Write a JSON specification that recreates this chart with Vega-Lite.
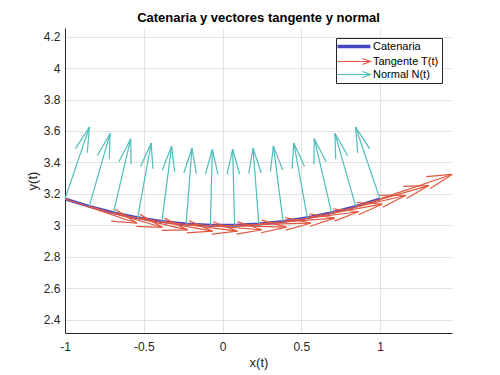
{
  "$schema": "https://vega.github.io/schema/vega-lite/v6.json",
  "width": 387,
  "height": 305,
  "autosize": {"type": "none"},
  "padding": {"left": 65, "top": 28, "right": 48, "bottom": 42},
  "background": "white",
  "title": {
    "text": "Catenaria y vectores tangente y normal",
    "font": "Liberation Sans",
    "fontSize": 13,
    "fontWeight": "bold",
    "color": "#000000",
    "frame": "group",
    "anchor": "middle",
    "offset": 3
  },
  "config": {
    "view": {"stroke": null},
    "font": "Liberation Sans",
    "axis": {
      "grid": true,
      "gridColor": "#e2e2e2",
      "gridWidth": 1,
      "domainColor": "#262626",
      "domainWidth": 1,
      "ticks": false,
      "tickSize": 0,
      "tickCount": 20,
      "labelFont": "Liberation Sans",
      "labelFontSize": 12,
      "labelColor": "#262626",
      "labelFlush": false,
      "labelOverlap": false,
      "titleFont": "Liberation Sans",
      "titleFontSize": 13,
      "titleFontWeight": "normal",
      "titleColor": "#262626",
      "labelExpr": "replace(format(datum.value, '~g'), '\u2212', '-')"
    }
  },
  "datasets": {
    "curve": [
      {"s": "Catenaria", "x": -1, "y": 3.168216},
      {"s": "Catenaria", "x": -0.846154, "y": 3.120123},
      {"s": "Catenaria", "x": -0.692308, "y": 3.080236},
      {"s": "Catenaria", "x": -0.538462, "y": 3.048454},
      {"s": "Catenaria", "x": -0.384615, "y": 3.024689},
      {"s": "Catenaria", "x": -0.230769, "y": 3.00888},
      {"s": "Catenaria", "x": -0.076923, "y": 3.000986},
      {"s": "Catenaria", "x": 0.076923, "y": 3.000986},
      {"s": "Catenaria", "x": 0.230769, "y": 3.00888},
      {"s": "Catenaria", "x": 0.384615, "y": 3.024689},
      {"s": "Catenaria", "x": 0.538462, "y": 3.048454},
      {"s": "Catenaria", "x": 0.692308, "y": 3.080236},
      {"s": "Catenaria", "x": 0.846154, "y": 3.120123},
      {"s": "Catenaria", "x": 1, "y": 3.168216}
    ],
    "arrows": [
      {"s": "Tangente T(t)", "x": -1, "y": 3.168216, "tx": -0.542865, "ty": 3.013, "ax": -0.680915, "ay": 3.101935, "bx": -0.706525, "by": 3.026507},
      {"s": "Tangente T(t)", "x": -0.846154, "y": 3.120123, "tx": -0.381973, "ty": 2.987457, "ax": -0.524208, "ay": 3.069532, "bx": -0.546098, "by": 2.992942},
      {"s": "Tangente T(t)", "x": -0.692308, "y": 3.080236, "tx": -0.222116, "ty": 2.970764, "ax": -0.368248, "ay": 3.045681, "bx": -0.38631, "by": 2.968099},
      {"s": "Tangente T(t)", "x": -0.538462, "y": 3.048454, "tx": -0.063367, "ty": 2.962722, "ax": -0.213075, "ay": 3.030209, "bx": -0.227221, "by": 2.951819},
      {"s": "Tangente T(t)", "x": -0.384615, "y": 3.024689, "tx": 0.094212, "ty": 2.963132, "ax": -0.058723, "ay": 3.022949, "bx": -0.068879, "by": 2.943943},
      {"s": "Tangente T(t)", "x": -0.230769, "y": 3.00888, "tx": 0.250574, "ty": 2.971817, "ax": 0.094789, "ay": 3.023759, "bx": 0.088673, "by": 2.944337},
      {"s": "Tangente T(t)", "x": -0.076923, "y": 3.000986, "tx": 0.405686, "ty": 2.98861, "ax": 0.247446, "ay": 3.032509, "bx": 0.245404, "by": 2.952879},
      {"s": "Tangente T(t)", "x": 0.076923, "y": 3.000986, "tx": 0.559532, "ty": 3.013362, "ax": 0.39925, "ay": 3.049093, "bx": 0.401292, "by": 2.969463},
      {"s": "Tangente T(t)", "x": 0.230769, "y": 3.00888, "tx": 0.712112, "ty": 3.045943, "ax": 0.550211, "ay": 3.073423, "bx": 0.556327, "by": 2.994001},
      {"s": "Tangente T(t)", "x": 0.384615, "y": 3.024689, "tx": 0.863442, "ty": 3.086246, "ax": 0.700351, "ay": 3.105435, "bx": 0.710507, "by": 3.026429},
      {"s": "Tangente T(t)", "x": 0.538462, "y": 3.048454, "tx": 1.013557, "ty": 3.134186, "ax": 0.849703, "ay": 3.145089, "bx": 0.863849, "by": 3.066699},
      {"s": "Tangente T(t)", "x": 0.692308, "y": 3.080236, "tx": 1.1625, "ty": 3.189708, "ax": 0.998306, "ay": 3.192373, "bx": 1.016368, "by": 3.114791},
      {"s": "Tangente T(t)", "x": 0.846154, "y": 3.120123, "tx": 1.310335, "ty": 3.252789, "ax": 1.14621, "ay": 3.247304, "bx": 1.1681, "by": 3.170714},
      {"s": "Tangente T(t)", "x": 1, "y": 3.168216, "tx": 1.457135, "ty": 3.323432, "ax": 1.293475, "ay": 3.309925, "bx": 1.319085, "by": 3.234497},
      {"s": "Normal N(t)", "x": -1, "y": 3.168216, "tx": -0.844784, "ty": 3.625351, "ax": -0.858291, "ay": 3.461691, "bx": -0.933719, "by": 3.487301},
      {"s": "Normal N(t)", "x": -0.846154, "y": 3.120123, "tx": -0.713488, "ty": 3.584304, "ax": -0.718973, "ay": 3.420179, "bx": -0.795563, "by": 3.442069},
      {"s": "Normal N(t)", "x": -0.692308, "y": 3.080236, "tx": -0.582836, "ty": 3.550428, "ax": -0.580171, "ay": 3.386234, "bx": -0.657753, "by": 3.404296},
      {"s": "Normal N(t)", "x": -0.538462, "y": 3.048454, "tx": -0.45273, "ty": 3.523549, "ax": -0.441827, "ay": 3.359695, "bx": -0.520217, "by": 3.373841},
      {"s": "Normal N(t)", "x": -0.384615, "y": 3.024689, "tx": -0.323058, "ty": 3.503516, "ax": -0.303869, "ay": 3.340425, "bx": -0.382875, "by": 3.350581},
      {"s": "Normal N(t)", "x": -0.230769, "y": 3.00888, "tx": -0.193706, "ty": 3.490223, "ax": -0.166226, "ay": 3.328322, "bx": -0.245648, "by": 3.334438},
      {"s": "Normal N(t)", "x": -0.076923, "y": 3.000986, "tx": -0.064547, "ty": 3.483595, "ax": -0.028816, "ay": 3.323313, "bx": -0.108446, "by": 3.325355},
      {"s": "Normal N(t)", "x": 0.076923, "y": 3.000986, "tx": 0.064547, "ty": 3.483595, "ax": 0.028816, "ay": 3.323313, "bx": 0.108446, "by": 3.325355},
      {"s": "Normal N(t)", "x": 0.230769, "y": 3.00888, "tx": 0.193706, "ty": 3.490223, "ax": 0.166226, "ay": 3.328322, "bx": 0.245648, "by": 3.334438},
      {"s": "Normal N(t)", "x": 0.384615, "y": 3.024689, "tx": 0.323058, "ty": 3.503516, "ax": 0.303869, "ay": 3.340425, "bx": 0.382875, "by": 3.350581},
      {"s": "Normal N(t)", "x": 0.538462, "y": 3.048454, "tx": 0.45273, "ty": 3.523549, "ax": 0.441827, "ay": 3.359695, "bx": 0.520217, "by": 3.373841},
      {"s": "Normal N(t)", "x": 0.692308, "y": 3.080236, "tx": 0.582836, "ty": 3.550428, "ax": 0.580171, "ay": 3.386234, "bx": 0.657753, "by": 3.404296},
      {"s": "Normal N(t)", "x": 0.846154, "y": 3.120123, "tx": 0.713488, "ty": 3.584304, "ax": 0.718973, "ay": 3.420179, "bx": 0.795563, "by": 3.442069},
      {"s": "Normal N(t)", "x": 1, "y": 3.168216, "tx": 0.844784, "ty": 3.625351, "ax": 0.858291, "ay": 3.461691, "bx": 0.933719, "by": 3.487301}
    ]
  },
  "layer": [
    {
      "data": {"name": "curve"},
      "mark": {"type": "line", "strokeWidth": 3, "clip": true},
      "encoding": {
        "x": {
          "field": "x", "type": "quantitative",
          "scale": {"domain": [-1, 1.4571], "nice": false, "zero": false},
          "axis": {"values": [-1, -0.5, 0, 0.5, 1], "title": "x(t)", "labelPadding": 8, "titlePadding": 4}
        },
        "y": {
          "field": "y", "type": "quantitative",
          "scale": {"domain": [2.315, 4.255], "nice": false, "zero": false},
          "axis": {"values": [2.4, 2.6, 2.8, 3, 3.2, 3.4, 3.6, 3.8, 4, 4.2], "tickCount": 20, "title": "y(t)", "labelPadding": 5, "titlePadding": 4}
        },
        "color": {
          "field": "s", "type": "nominal",
          "scale": {"domain": ["Catenaria", "Tangente T(t)", "Normal N(t)"], "range": ["#4646c6", "#e2583f", "#4dbdbd"]},
          "legend": {
            "title": null,
            "orient": "top-right",
            "offset": 10,
            "fillColor": "white",
            "strokeColor": "#262626",
            "padding": 3,
            "rowPadding": 1,
            "symbolSize": 196,
            "symbolType": "stroke",
            "symbolStrokeWidth": 1.2,
            "symbolOffset": 0,
            "labelOffset": 23,
            "labelFont": "Liberation Sans",
            "labelFontSize": 11,
            "labelColor": "#000000",
            "encode": {
              "symbols": {
                "update": {
                  "shape": {"signal": "datum.value === 'Catenaria' ? 'M -1 0 L 3.7 0' : 'M -1 0 L 3.7 0 M 2.56 -0.43 L 3.7 0 L 2.56 0.43'"},
                  "strokeWidth": {"signal": "datum.value === 'Catenaria' ? 3.5 : 1.2"},
                  "fill": {"value": "transparent"}
                }
              }
            }
          }
        }
      }
    },
    {
      "data": {"name": "arrows"},
      "mark": {"type": "rule", "strokeWidth": 1.2},
      "encoding": {
        "x": {"field": "x", "type": "quantitative"},
        "y": {"field": "y", "type": "quantitative"},
        "x2": {"field": "tx"},
        "y2": {"field": "ty"},
        "color": {"field": "s", "type": "nominal"}
      }
    },
    {
      "data": {"name": "arrows"},
      "mark": {"type": "rule", "strokeWidth": 1.2},
      "encoding": {
        "x": {"field": "ax", "type": "quantitative"},
        "y": {"field": "ay", "type": "quantitative"},
        "x2": {"field": "tx"},
        "y2": {"field": "ty"},
        "color": {"field": "s", "type": "nominal"}
      }
    },
    {
      "data": {"name": "arrows"},
      "mark": {"type": "rule", "strokeWidth": 1.2},
      "encoding": {
        "x": {"field": "bx", "type": "quantitative"},
        "y": {"field": "by", "type": "quantitative"},
        "x2": {"field": "tx"},
        "y2": {"field": "ty"},
        "color": {"field": "s", "type": "nominal"}
      }
    }
  ]
}
